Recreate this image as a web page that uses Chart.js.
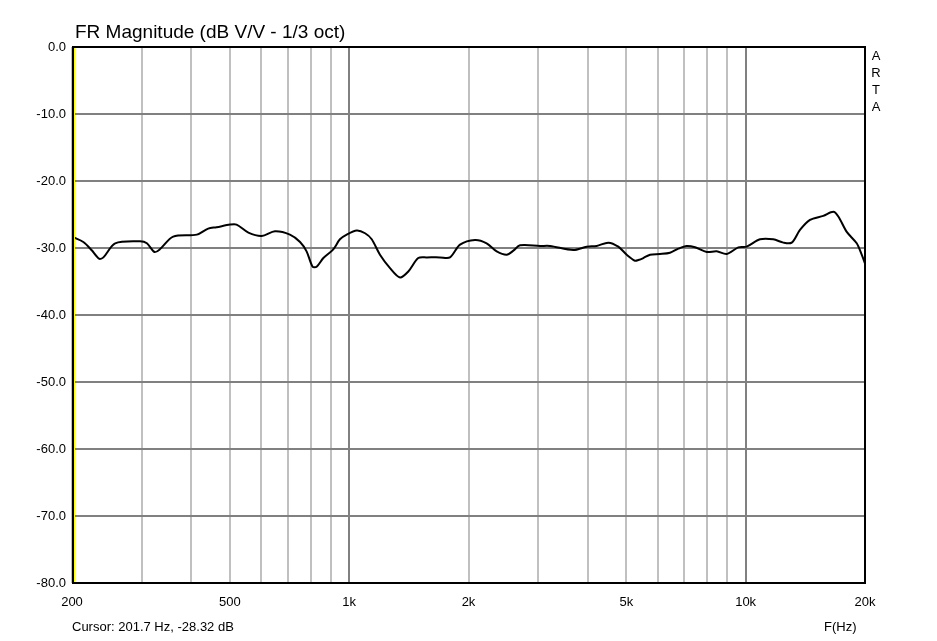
<!DOCTYPE html>
<html>
<head>
<meta charset="utf-8">
<script src="https://cdn.jsdelivr.net/npm/chart.js@4.4.0/dist/chart.umd.min.js"></script>
<style>
  html, body { margin: 0; padding: 0; background: #fff; }
  #wrap { width: 937px; height: 641px; position: relative; }
</style>
</head>
<body>
<div id="wrap"><canvas id="fr"></canvas></div>
<script>
// frequency response
var freqs = [201.5, 213.6, 224, 234, 240, 257, 297, 309, 323, 333, 360, 413, 441, 463, 501, 520,
  557, 602, 650, 709, 752, 781, 809, 828, 861, 912, 948, 986, 1045, 1097, 1140, 1196, 1268,
  1344, 1410, 1494, 1569, 1695, 1796, 1904, 2077, 2222, 2356, 2497, 2595, 2698, 3030, 3211,
  3676, 3974, 4211, 4505, 4773, 5012, 5260, 5363, 5520, 5740, 6081, 6445, 6763, 7101, 7453,
  7980, 8453, 8959, 9585, 10060, 10870, 11740, 12450, 13070, 13710, 14530, 15700, 16640,
  17130, 17990, 19060, 19620, 20000];
var dbs = [-28.4, -29.1, -30.3, -31.6, -31.4, -29.3, -29.0, -29.3, -30.6, -30.2, -28.3, -28.0,
  -27.1, -26.9, -26.5, -26.5, -27.7, -28.2, -27.5, -28.0, -29.1, -30.5, -32.8, -32.8, -31.5,
  -30.2, -28.7, -28.0, -27.4, -27.8, -28.7, -31.0, -33.0, -34.4, -33.5, -31.5, -31.4, -31.4,
  -31.4, -29.5, -28.8, -29.3, -30.5, -31.0, -30.4, -29.6, -29.7, -29.7, -30.3, -29.8, -29.7,
  -29.2, -29.8, -31.0, -31.9, -31.8, -31.5, -31.0, -30.9, -30.7, -30.1, -29.7, -29.9, -30.6,
  -30.5, -30.9, -29.9, -29.8, -28.7, -28.7, -29.2, -29.2, -27.3, -25.8, -25.2, -24.6, -25.3,
  -27.6, -29.3, -31.0, -32.3];

var xTicks = [200, 300, 400, 500, 600, 700, 800, 900, 1000, 2000, 3000, 4000, 5000, 6000,
  7000, 8000, 9000, 10000, 20000];
var xLabels = { 200: "200", 500: "500", 1000: "1k", 2000: "2k", 5000: "5k", 10000: "10k", 20000: "20k" };

var title = "FR Magnitude (dB V/V - 1/3 oct)";
var cursorText = "Cursor: 201.7 Hz, -28.32 dB";
var cursorFreq = 201.7;

var points = freqs.map(function (f, i) { return { x: f, y: dbs[i] }; });

// frame, cursor line and loose text
var extras = {
  id: "extras",
  afterDatasetsDraw: function (chart) {
    var c = chart.ctx, a = chart.chartArea;
    c.save();
    c.strokeStyle = "#000";
    c.lineWidth = 2;
    c.strokeRect(a.left + 1, a.top, a.right - a.left - 1, a.bottom - a.top);
    var cx = Math.round(chart.scales.x.getPixelForValue(cursorFreq)) + 1.5;
    c.strokeStyle = "#ffff00";
    c.lineWidth = 1;
    c.beginPath();
    c.moveTo(cx, a.top + 1);
    c.lineTo(cx, a.bottom - 1);
    c.stroke();

    c.fillStyle = "#000";
    c.textBaseline = "middle";
    c.textAlign = "left";
    c.font = "19px 'Liberation Sans', Arial, sans-serif";
    c.fillText(title, 75, 33);
    c.font = "13px 'Liberation Sans', Arial, sans-serif";
    c.fillText(cursorText, 72, 627);
    c.fillText("F(Hz)", 824, 627);
    c.textAlign = "center";
    "ARTA".split("").forEach(function (ch, i) {
      c.fillText(ch, 876, 56 + i * 17);
    });
    c.restore();
  }
};

new Chart(document.getElementById("fr"), {
  type: "line",
  data: {
    datasets: [{
      data: points,
      borderColor: "#000",
      borderWidth: 2,
      pointRadius: 0,
      tension: 0.3,
      fill: false
    }]
  },
  options: {
    responsive: true,
    maintainAspectRatio: false,
    animation: false,
    events: [],
    layout: { padding: { left: 0, top: 47, right: 72, bottom: 0 } },
    plugins: { legend: { display: false }, tooltip: { enabled: false } },
    scales: {
      x: {
        type: "logarithmic",
        min: 200,
        max: 20000,
        afterBuildTicks: function (scale) {
          scale.ticks = xTicks.map(function (v) { return { value: v }; });
        },
        afterFit: function (scale) { scale.height = 58; },
        border: { display: false },
        grid: {
          drawTicks: false,
          lineWidth: 2,
          color: function (ctx) {
            var v = ctx.tick && ctx.tick.value;
            return (v === 1000 || v === 10000) ? "#808080" : "#c0c0c0";
          }
        },
        ticks: {
          autoSkip: false,
          maxRotation: 0,
          padding: 12,
          color: "#000",
          font: { family: "'Liberation Sans', Arial, sans-serif", size: 13 },
          callback: function (v) { return xLabels[v] || ""; }
        }
      },
      y: {
        min: -80,
        max: 0,
        afterFit: function (scale) { scale.width = 72; },
        border: { display: false },
        grid: { drawTicks: false, lineWidth: 2, color: "#808080" },
        ticks: {
          stepSize: 10,
          padding: 6,
          color: "#000",
          font: { family: "'Liberation Sans', Arial, sans-serif", size: 13 },
          callback: function (v) { return v.toFixed(1); }
        }
      }
    }
  },
  plugins: [extras]
});
</script>
</body>
</html>
